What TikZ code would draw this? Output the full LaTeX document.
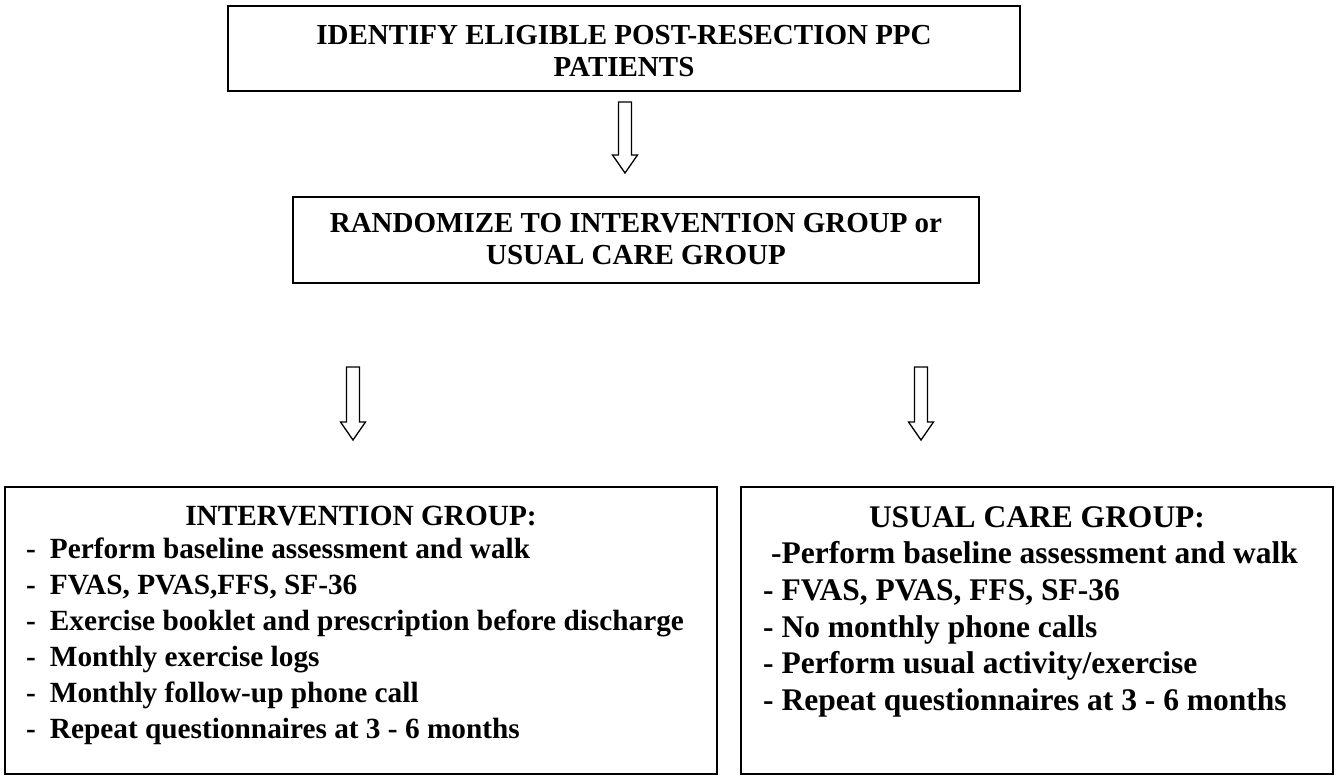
\documentclass[tikz,border=0pt]{standalone}
\usepackage{fontspec}
\setmainfont{Liberation Serif}
\begin{document}
\begin{tikzpicture}[x=1pt,y=-1pt,
	box/.style={draw,line width=1.4pt,inner sep=0pt},
	hollow/.style={draw,line width=1.3pt,line join=miter},
	head/.style={inner sep=0pt,font=\bfseries\fontsize{29}{32}\selectfont},
	ltxt/.style={inner sep=0pt,font=\bfseries\fontsize{29.3}{36}\selectfont},
	rtxt/.style={inner sep=0pt,font=\bfseries\fontsize{31.5}{36}\selectfont}]
	\useasboundingbox (0,0) rectangle (1338,783);
	% boxes
	\node[box,minimum width=792pt,minimum height=85pt] (identify) at (624,48.5) {};
	\node[box,minimum width=686pt,minimum height=86pt] (randomize) at (636,240) {};
	\node[box,minimum width=712pt,minimum height=287pt] (interv) at (361,630.5) {};
	\node[box,minimum width=592pt,minimum height=287pt] (usual) at (1037,630.5) {};
	% headings
	\node[head,anchor=base] (id1) at (624,45) {IDENTIFY ELIGIBLE POST-RESECTION PPC};
	\node[head,anchor=base] (id2) at (624,77) {PATIENTS};
	\node[head,anchor=base] (ra1) at (636,233) {RANDOMIZE TO INTERVENTION GROUP or};
	\node[head,anchor=base] (ra2) at (636,265) {USUAL CARE GROUP};
	% block arrows
	\foreach \x/\a/\b in {625/102/173,353/367/440,921/367/440}
		\draw[hollow] (\x-6.5,\a) -- (\x+6.5,\a) -- (\x+6.5,\b-18) -- (\x+12.5,\b-18)
			-- (\x,\b) -- (\x-12.5,\b-18) -- (\x-6.5,\b-18) -- cycle;
	% intervention group
	\node[ltxt,anchor=base] (ititle) at (361,525) {INTERVENTION GROUP:};
	\foreach \y/\t in {558/{Perform baseline assessment and walk},
		594/{FVAS, PVAS,FFS, SF-36},
		630/{Exercise booklet and prescription before discharge},
		666/{Monthly exercise logs},
		702/{Monthly follow-up phone call},
		738/{Repeat questionnaires at 3 - 6 months}}
		\node[ltxt,anchor=base west] (iline\y) at (26,\y) {-\hspace{14pt}\t};
	% usual care group
	\node[rtxt,anchor=base] (utitle) at (1037,527) {USUAL CARE GROUP:};
	\node[rtxt,anchor=base west] (uline1) at (771,563) {-Perform baseline assessment and walk};
	\foreach \y/\t in {600/{FVAS, PVAS, FFS, SF-36},
		637/{No monthly phone calls},
		673/{Perform usual activity/exercise},
		710/{Repeat questionnaires at 3 - 6 months}}
		\node[rtxt,anchor=base west] (uline\y) at (763,\y) {- \t};
\end{tikzpicture}
\end{document}
